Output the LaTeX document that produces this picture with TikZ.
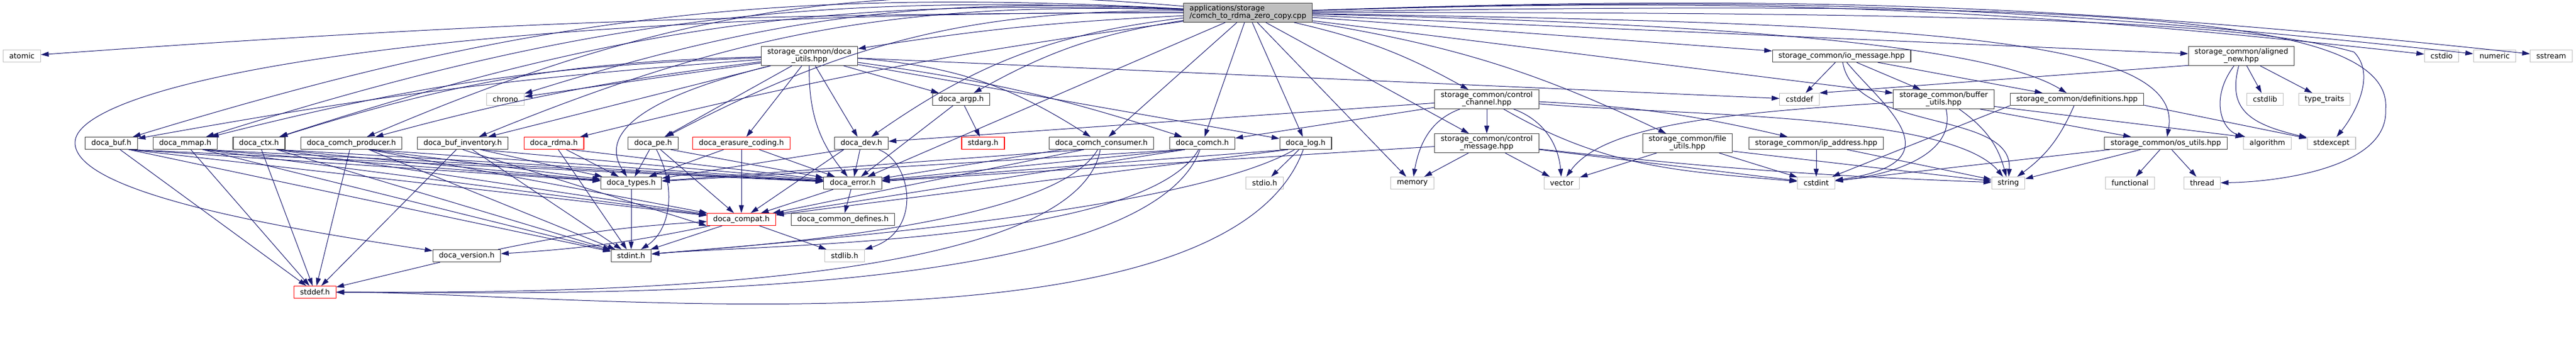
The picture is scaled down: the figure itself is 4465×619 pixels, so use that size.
\documentclass[tikz,border=0pt]{standalone}
\usepackage{fontspec}
\setmainfont{DejaVu Sans}
\usetikzlibrary{arrows.meta}

\definecolor{edgeblue}{HTML}{191970}
\definecolor{sysgray}{HTML}{BFBFBF}
\definecolor{boxgray}{HTML}{404040}

\begin{document}
\begin{tikzpicture}[
    x=0.2pt,
    y=-0.2pt,
    every node/.style={
      rectangle,
      draw=boxgray,
      line width=0.22pt,
      font={\fontsize{2.56}{2.6}\selectfont},
      inner xsep=2.1pt,
      inner ysep=0.7pt,
      minimum height=4.2pt,
      align=center
    },
    sys/.style={draw=sysgray},
    undoc/.style={draw=red},
    thisfile/.style={fill=sysgray, align=left},
    inc/.style={->, color=edgeblue, line width=0.2pt},
    >={Triangle[length=2.7pt,width=1.7pt]},
    ]

    \useasboundingbox (0,0) rectangle (4465,619);

    \node[thisfile] (root) at (2163,22) {applications/storage\\/comch\_to\_rdma\_zero\_copy.cpp};

    \node (utils)      at (1403,97)  {storage\_common/doca\\\_utils.hpp};
    \node (iomsg)      at (3192,97)  {storage\_common/io\_message.hpp};
    \node (alignednew) at (3885,97)  {storage\_common/aligned\\\_new.hpp};
    \node (ctrlchan)   at (2577,172) {storage\_common/control\\\_channel.hpp};
    \node (bufutils)   at (3369,172) {storage\_common/buffer\\\_utils.hpp};
    \node (defs)       at (3600,172) {storage\_common/definitions.hpp};
    \node (ctrlmsg)    at (2577,248) {storage\_common/control\\\_message.hpp};
    \node (fileutils)  at (2925,248) {storage\_common/file\\\_utils.hpp};
    \node (ipaddr)     at (3148,248) {storage\_common/ip\_address.hpp};
    \node (osutils)    at (3754,248) {storage\_common/os\_utils.hpp};

    \foreach \nm/\px/\py/\lbl in {argp/1666/172/doca\_argp.h, buf/193/248/doca\_buf.h,
        mmap/321/248/doca\_mmap.h, ctx/449/248/doca\_ctx.h, producer/609/248/doca\_comch\_producer.h,
        inventory/802/248/doca\_buf\_inventory.h, pe/1132/248/doca\_pe.h, dev/1493/248/doca\_dev.h,
        consumer/1909/248/doca\_comch\_consumer.h, comch/2084/248/doca\_comch.h, log/2263/248/doca\_log.h,
        types/1094/317/doca\_types.h, error/1478/317/doca\_error.h,
        defines/1461/380/doca\_common\_defines.h, version/809/443/doca\_version.h, stdint/1094/443/stdint.h}{
      \node (\nm) at (\px,\py) {\lbl};
    }
    \foreach \nm/\px/\py/\lbl in {rdma/960/248/doca\_rdma.h, erasure/1285/248/doca\_erasure\_coding.h,
        stdarg/1704/248/stdarg.h, compat/1285/380/doca\_compat.h, stddef/546/506/stddef.h}{
      \node[undoc] (\nm) at (\px,\py) {\lbl};
    }
    \foreach \nm/\px/\py/\lbl in {atomic/38/97/atomic, cstdio/4232/97/cstdio, numeric/4324/97/numeric,
        sstream/4422/97/sstream, chrono/876/172/chrono, cstddef/3119/172/cstddef,
        cstdlib/3926/172/cstdlib, typetraits/4029/172/type\_traits, algorithm/3930/248/algorithm,
        stdexcept/4041/248/stdexcept, stdio/2192/317/stdio.h, memory/2448/317/memory,
        vector/2707/317/vector, cstdint/3148/317/cstdint, string/3481/317/string,
        functional/3692/317/functional, thread/3817/317/thread, stdlib/1464/443/stdlib.h}{
      \node[sys] (\nm) at (\px,\py) {\lbl};
    }

    \path[inc]
    (root) edge[bend right=2]  (atomic)
    (root) edge[bend right=10] (chrono)
    (root) edge[bend right=3]  (utils)
    (root) edge[bend right=10] (buf)
    (root) edge[bend right=10] (mmap)
    (root) edge[bend right=10] (ctx)
    (root) edge[bend right=14] (producer)
    (root) edge[bend right=12] (inventory)
    (root) edge[bend right=3]  (rdma)
    (root) edge[bend right=14] (pe)
    (root) edge[bend right=14] (dev)
    (root) edge[bend right=10] (argp)
    (root) edge (error)
    (root) edge (consumer)
    (root) edge (comch)
    (root) edge (log)
    (root) edge (memory)
    (root) edge[bend left=8] (ctrlchan)
    (root) edge (ctrlmsg)
    (root) edge[bend left=8] (fileutils)
    (root) edge (iomsg)
    (root) edge (bufutils)
    (root) edge (alignednew)
    (root) edge[bend left=4] (cstdio)
    (root) edge[bend left=4] (numeric)
    (root) edge[bend left=4] (sstream)
    ;
    \draw[inc] (root) .. controls (3000,40) and (3450,80) .. (defs);
    \draw[inc] (root) .. controls (3300,40) and (3790,60) .. (osutils);
    \draw[inc] (root) .. controls (3500,20) and (3900,40) .. (4080,90)
      .. controls (4120,130) and (4080,200) .. (stdexcept);
    \draw[inc] (root) .. controls (3600,0) and (4150,20) .. (4135,190)
      .. controls (4140,290) and (3950,315) .. (thread);
    \draw[inc] (root) .. controls (700,20) and (130,150) .. (130,247)
      .. controls (130,330) and (450,390) .. (version);

    \path[inc]
    (utils) edge (chrono)
    (utils) edge[bend right=3] (buf)
    (utils) edge[bend right=6] (mmap)
    (utils) edge[bend right=8] (ctx)
    (utils) edge[bend right=4] (producer)
    (utils) edge (inventory)
    (utils) edge (pe)
    (utils) edge (erasure)
    (utils) edge (dev)
    (utils) edge[bend right=20] (error)
    (utils) edge (argp)
    (utils) edge[bend left=14] (consumer)
    (utils) edge[bend left=5] (comch)
    (utils) edge (log)
    (utils) edge (cstddef)
    ;
    \draw[inc] (utils) .. controls (1150,160) and (1030,220) .. (types);

    \path[inc]
    (iomsg) edge (cstddef)
    (iomsg) edge (bufutils)
    (iomsg.-10) edge (defs)
    (alignednew.190) edge (cstddef.north east)
    (alignednew) edge (cstdlib)
    (alignednew) edge (typetraits)
    (bufutils) edge[bend left=20] (string)
    (bufutils.-15) edge (osutils)
    (bufutils.-8) edge (algorithm.north west)
    (defs) edge[bend left=15] (string)
    (defs.-5) edge (stdexcept)
    (defs.south west) edge (cstdint)
    (osutils) edge (string)
    (osutils) edge (cstdint)
    (osutils) edge (functional)
    (osutils) edge (thread)
    (ctrlchan) edge (dev)
    (ctrlchan) edge (comch)
    (ctrlchan) edge[out=-160,in=80] (memory)
    (ctrlchan) edge (ctrlmsg)
    (ctrlchan) edge[out=-20,in=95] (vector)
    (ctrlchan) edge[out=-30,in=175] (cstdint)
    (ctrlchan) edge[bend left=5] (ipaddr)
    (ctrlmsg) edge (error)
    (ctrlmsg) edge (memory)
    (ctrlmsg) edge (vector)
    (ctrlmsg) edge (cstdint)
    (ctrlmsg) edge[bend right=2] (string)
    (fileutils) edge (vector)
    (fileutils) edge (cstdint)
    (fileutils.-10) edge (string)
    (ipaddr) edge (cstdint)
    (ipaddr) edge (string)
    ;
    \draw[inc] (iomsg) .. controls (3260,180) and (3400,280) .. (cstdint);
    \draw[inc] (iomsg) .. controls (3215,230) and (3490,190) .. (string);
    \draw[inc] (alignednew) .. controls (3830,170) and (3850,225) .. (algorithm);
    \draw[inc] (alignednew) .. controls (3860,190) and (3900,215) .. (stdexcept);
    \draw[inc] (bufutils) .. controls (3000,195) and (2780,215) .. (vector);
    \draw[inc] (bufutils) .. controls (3390,260) and (3300,300) .. (cstdint);
    \draw[inc] (ctrlchan) .. controls (2900,200) and (3380,195) .. (string);

    \path[inc]
    (buf.-20) edge (types)
    (buf.-20) edge (error)
    (buf.-20) edge (compat)
    (buf.-20) edge (stdint)
    (buf) edge (stddef)
    (mmap.-20) edge (types)
    (mmap.-20) edge (error)
    (mmap.-20) edge (compat)
    (mmap.-20) edge (stdint)
    (mmap) edge (stddef)
    (ctx.-20) edge (types)
    (ctx.-20) edge (error)
    (ctx.-20) edge (compat)
    (ctx.-20) edge (stdint)
    (ctx) edge (stddef)
    (producer.-20) edge (types)
    (producer.-20) edge (error)
    (producer.-20) edge (compat)
    (producer.-20) edge (stdint)
    (producer) edge (stddef)
    (inventory.-20) edge (types)
    (inventory.-20) edge (error)
    (inventory.south) edge (compat.south west)
    (inventory) edge (stdint)
    (inventory) edge (stddef)
    (rdma) edge (types)
    (rdma.-20) edge (error)
    (rdma) edge (stdint)
    (pe) edge (types)
    (pe.-20) edge (error)
    (pe) edge (compat)
    (erasure) edge (types)
    (erasure) edge (error)
    (erasure) edge (compat)
    (dev.-160) edge (types)
    (dev) edge (error)
    (dev.-160) edge (compat)
    (argp) edge (stdarg)
    (argp) edge (error)
    (consumer.-160) edge (types)
    (consumer) edge (error)
    (consumer.-160) edge (compat)
    (consumer) edge[out=-120,in=5,looseness=0.5] (stdint)
    (consumer) edge[out=-100,in=0,looseness=0.5] (stddef)
    (comch.-160) edge (types)
    (comch.-160) edge (error)
    (comch.-160) edge (compat)
    (comch) edge[out=-120,in=5,looseness=0.5] (stdint)
    (comch) edge[out=-110,in=0,looseness=0.5] (stddef)
    (log) edge (stdio)
    (log.-160) edge (error)
    (log.-160) edge (compat)
    (log) edge[out=-150,in=5,looseness=0.5] (stdint)
    (log) edge[out=-110,in=0,looseness=0.6] (stddef)
    (types) edge (stdint)
    (error) edge (compat)
    (error) edge (defines)
    (compat) edge (stdint)
    (compat) edge (stdlib)
    (compat) edge[bend left=4] (version)
    (version) edge[bend left=4] (compat)
    (version) edge (stddef)
    ;
    \draw[inc] (dev) .. controls (1580,280) and (1600,400) .. (stdlib);
    \draw[inc] (pe) .. controls (1175,330) and (1160,400) .. (stdint);
  \end{tikzpicture}
\end{document}
